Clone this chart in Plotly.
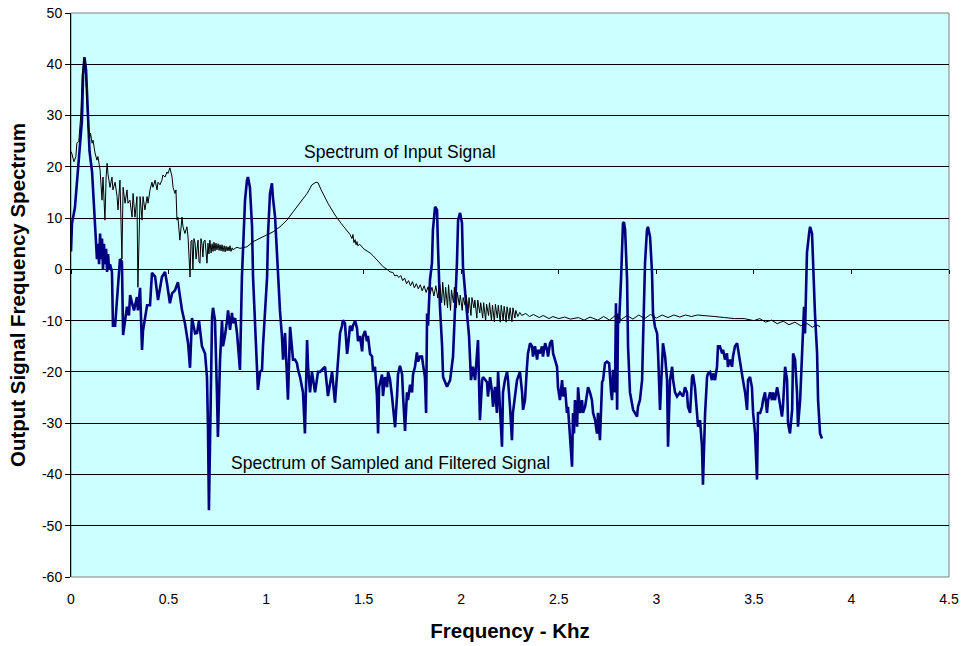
import plotly.graph_objects as go

# ---- Spectrum of sampled and filtered signal (blue) ----
filtered_khz = [
    0, 0.005, 0.02, 0.036, 0.056, 0.062, 0.069, 0.077, 0.087, 0.095, 0.108, 0.113, 0.118, 0.126, 0.133,
    0.138, 0.144, 0.149, 0.154, 0.159, 0.164, 0.169, 0.174, 0.18, 0.185, 0.19, 0.195, 0.2, 0.21,
    0.215, 0.226, 0.251, 0.261, 0.267, 0.287, 0.297, 0.303, 0.313, 0.323, 0.338, 0.343, 0.354, 0.364, 0.369,
    0.39, 0.405, 0.415, 0.431, 0.446, 0.466, 0.482, 0.492, 0.507, 0.518, 0.533, 0.548, 0.569, 0.584,
    0.6, 0.61, 0.62, 0.636, 0.646, 0.656, 0.671, 0.687, 0.697, 0.702, 0.707, 0.718, 0.723, 0.728,
    0.738, 0.748, 0.753, 0.764, 0.774, 0.779, 0.789, 0.8, 0.805, 0.815, 0.825, 0.83, 0.841, 0.851,
    0.856, 0.866, 0.876, 0.882, 0.892, 0.902, 0.907, 0.917, 0.928, 0.933, 0.943, 0.953, 0.958, 0.969,
    0.979, 0.984, 0.994, 1.005, 1.01, 1.02, 1.03, 1.035, 1.046, 1.056, 1.061, 1.071, 1.081, 1.087,
    1.097, 1.107, 1.112, 1.123, 1.133, 1.138, 1.148, 1.158, 1.164, 1.174, 1.189, 1.199, 1.21, 1.215,
    1.225, 1.235, 1.251, 1.266, 1.276, 1.302, 1.317, 1.338, 1.353, 1.369, 1.379, 1.389, 1.394, 1.404,
    1.415, 1.42, 1.43, 1.44, 1.445, 1.456, 1.466, 1.471, 1.481, 1.492, 1.497, 1.507, 1.517, 1.522,
    1.533, 1.543, 1.548, 1.558, 1.568, 1.574, 1.579, 1.594, 1.599, 1.609, 1.62, 1.625, 1.635, 1.645,
    1.65, 1.661, 1.671, 1.676, 1.686, 1.697, 1.702, 1.712, 1.722, 1.727, 1.738, 1.748, 1.753, 1.763,
    1.773, 1.779, 1.789, 1.799, 1.804, 1.814, 1.82, 1.825, 1.83, 1.84, 1.85, 1.855, 1.866, 1.876,
    1.881, 1.891, 1.902, 1.907, 1.927, 1.943, 1.958, 1.968, 1.978, 1.984, 1.994, 2.004, 2.009, 2.019,
    2.03, 2.04, 2.05, 2.06, 2.071, 2.081, 2.086, 2.096, 2.107, 2.112, 2.122, 2.132, 2.137, 2.148,
    2.158, 2.163, 2.173, 2.183, 2.189, 2.199, 2.209, 2.214, 2.224, 2.235, 2.24, 2.25, 2.26, 2.265,
    2.276, 2.286, 2.301, 2.312, 2.317, 2.327, 2.337, 2.342, 2.353, 2.363, 2.368, 2.378, 2.389, 2.394,
    2.404, 2.414, 2.419, 2.43, 2.44, 2.445, 2.455, 2.465, 2.471, 2.481, 2.491, 2.496, 2.506, 2.517,
    2.522, 2.532, 2.542, 2.547, 2.558, 2.568, 2.573, 2.578, 2.583, 2.594, 2.599, 2.609, 2.619, 2.624,
    2.635, 2.645, 2.65, 2.66, 2.67, 2.676, 2.686, 2.696, 2.701, 2.711, 2.722, 2.727, 2.737, 2.747,
    2.758, 2.768, 2.773, 2.778, 2.788, 2.793, 2.799, 2.804, 2.809, 2.819, 2.824, 2.829, 2.834, 2.84,
    2.85, 2.855, 2.865, 2.875, 2.881, 2.901, 2.906, 2.916, 2.927, 2.932, 2.942, 2.952, 2.957, 2.968,
    2.978, 2.983, 2.993, 3.004, 3.009, 3.019, 3.029, 3.034, 3.045, 3.055, 3.06, 3.07, 3.081, 3.086,
    3.096, 3.106, 3.121, 3.137, 3.147, 3.157, 3.162, 3.173, 3.183, 3.188, 3.198, 3.209, 3.214, 3.224,
    3.234, 3.239, 3.25, 3.26, 3.265, 3.275, 3.285, 3.291, 3.301, 3.311, 3.316, 3.326, 3.337, 3.342,
    3.352, 3.362, 3.367, 3.378, 3.388, 3.393, 3.403, 3.414, 3.419, 3.429, 3.439, 3.444, 3.455, 3.465,
    3.47, 3.48, 3.49, 3.496, 3.506, 3.516, 3.521, 3.532, 3.542, 3.547, 3.557, 3.567, 3.573, 3.583,
    3.593, 3.598, 3.608, 3.619, 3.624, 3.634, 3.644, 3.649, 3.66, 3.67, 3.675, 3.685, 3.696, 3.701,
    3.711, 3.721, 3.726, 3.737, 3.747, 3.752, 3.757, 3.762, 3.767, 3.772, 3.783, 3.788, 3.798, 3.803,
    3.813, 3.824, 3.829, 3.839, 3.849,
]
filtered_db = [
    3.5, 9, 12, 20, 29, 38, 41.4, 39, 30, 23, 19, 15, 11, 6, 2,
    5, 1, 7, 2, 6, 0, 5, 1, 4, -0.5, 3, 0, 1, -0.5,
    -11, -11, 2, 1.5, -12.8, -7.3, -9, -5, -6.6, -8, -5.4, -8, -3.6, -15.7, -12,
    -7, -7, -0.7, -1.4, -6, -1.5, -0.5, -2.7, -6.6, -4.7, -4.1, -2.5, -8, -10.5,
    -14.4, -19.2, -9.5, -12.5, -12.4, -10, -15, -16.4, -21, -30.7, -47, -21, -9.3, -7.5,
    -9.9, -24, -32.7, -17.6, -9.9, -15, -13, -9.9, -8, -11.8, -8.5, -10.5, -9.5, -12.5,
    -15, -19.6, -1.5, 5, 13.5, 17.4, 18, 16, 8.3, -1.5, -9.9, -20, -23.5, -20,
    -19.6, -15, -8, -1.5, 7, 14.8, 16.8, 14, 10.2, 2.4, -0.7, -8, -13, -17.6,
    -12.4, -21, -25.4, -11.2, -16.4, -17.6, -17.6, -18.3, -19.6, -21, -24, -32, -13.8, -19,
    -24, -20, -24, -20, -20, -19, -24.7, -20, -26, -16.5, -12.4, -11, -9.9, -10.5,
    -16.5, -15, -11, -12, -11, -10, -11.5, -14, -13, -16, -13, -12, -14, -13,
    -16.5, -17, -20, -19, -24.7, -32, -23, -20.5, -24.7, -21, -23, -20, -21.5, -24.7,
    -26.8, -30.8, -24.7, -20.5, -18.8, -20.5, -24.7, -31.5, -24, -25.5, -22.5, -24, -20.5, -19,
    -16.2, -18, -17, -17, -18.5, -21, -28, -8.6, -11, -2, 1.2, 7.7, 12.2, 11.6,
    4.4, -7.3, -15, -21, -22.9, -21.6, -17, -8.6, 1.2, 9.6, 11, 9, 0.5, -4,
    -8.6, -13, -21.6, -19, -21.6, -15, -13.8, -29.4, -21.6, -21, -21.6, -22, -24.8, -21,
    -24, -26.8, -22.9, -28, -20, -28, -34.6, -24, -21.6, -20, -21.6, -26.8, -33.3, -28,
    -24, -21.6, -20, -24, -27.4, -25.5, -19, -16.4, -14.4, -15, -17, -15, -17.6, -15.7,
    -16.4, -15, -17, -14.4, -15.7, -17, -14.4, -13.8, -16.4, -17.6, -19, -23, -25.5, -21.6,
    -24.8, -23, -28, -26.8, -33.3, -38.5, -28, -32, -25.5, -30.7, -23, -28, -25.5, -28,
    -26.8, -24, -23, -24, -25.5, -28, -29.4, -32, -28, -33.3, -22, -21.6, -18.3, -18,
    -18.3, -24, -25.5, -19.6, -24, -6.6, -27.4, -8.6, -10.5, -2, 4.4, 9, 9.2, 7.7,
    -2, -15, -24, -26, -27.4, -28.7, -26.8, -25.5, -21.6, -13.8, 1.2, 7.7, 8.3, 6.3,
    -0.7, -8.6, -11.2, -12.5, -16.4, -27.4, -16.4, -14.4, -17, -21.6, -34.6, -21.6, -19, -21.6,
    -24, -24.8, -24, -24.8, -23, -24, -26.8, -28, -21, -20.5, -23, -28, -30.7, -29.4,
    -34.6, -42, -28, -21, -20.3, -20, -21.6, -20.3, -21.6, -19, -15, -15, -16.4, -15.7,
    -17.6, -16.4, -19, -17.6, -19, -17, -15, -14.4, -15.7, -17.6, -20, -21.6, -24, -27.4,
    -21.6, -21, -23, -28, -32, -41, -28, -28, -26.8, -25.5, -24, -28, -25.5, -24,
    -25.5, -24, -25.5, -23, -24, -26.8, -28.7, -26.8, -19, -21.6, -30, -32, -27.4, -16.4,
    -17.6, -24, -30.7, -25.5, -15, -8.6, -7.3, -12.5, -2, 3.2, 7, 8.3, 7, 0.5,
    -8.6, -16.4, -25.5, -32, -33,
]

# ---- Spectrum of input signal (black) ----
input_khz = [
    0, 0.005, 0.015, 0.025, 0.03, 0.04, 0.05, 0.058, 0.067, 0.077, 0.087, 0.095, 0.1, 0.108, 0.113,
    0.123, 0.133, 0.138, 0.149, 0.159, 0.164, 0.174, 0.18, 0.185, 0.19, 0.2, 0.21, 0.215, 0.226,
    0.236, 0.241, 0.251, 0.261, 0.267, 0.277, 0.287, 0.292, 0.302, 0.313, 0.318, 0.328, 0.338, 0.343,
    0.354, 0.364, 0.369, 0.379, 0.39, 0.395, 0.405, 0.415, 0.42, 0.431, 0.441, 0.446, 0.456, 0.466,
    0.471, 0.482, 0.492, 0.497, 0.507, 0.518, 0.523, 0.533, 0.538, 0.543, 0.548, 0.558, 0.569, 0.574,
    0.584, 0.594, 0.6, 0.61, 0.615, 0.62, 0.625, 0.63, 0.636, 0.641, 0.646, 0.651, 0.656, 0.661,
    0.666, 0.671, 0.676, 0.681, 0.687, 0.692, 0.697, 0.702, 0.707, 0.712, 0.718, 0.723, 0.728, 0.733,
    0.738, 0.743, 0.748, 0.754, 0.759, 0.764, 0.769, 0.774, 0.779, 0.785, 0.79, 0.795, 0.8, 0.805,
    0.81, 0.815, 0.82, 0.826, 0.831, 0.841, 0.851, 0.866, 0.902, 0.933, 0.969, 1.005, 1.035, 1.071,
    1.107, 1.138, 1.174, 1.21, 1.235, 1.256, 1.266, 1.282, 1.317, 1.353, 1.384, 1.42, 1.43, 1.44,
    1.445, 1.45, 1.456, 1.461, 1.466, 1.47, 1.48, 1.5, 1.52, 1.533, 1.55, 1.568, 1.58, 1.6,
    1.62, 1.635, 1.65, 1.66, 1.671, 1.68, 1.69, 1.7, 1.71, 1.72, 1.73, 1.74, 1.75, 1.76,
    1.77, 1.78, 1.79, 1.8, 1.81, 1.82, 1.83, 1.84, 1.85, 1.86, 1.87, 1.88, 1.89, 1.9,
    1.905, 1.915, 1.92, 1.93, 1.935, 1.945, 1.95, 1.96, 1.965, 1.975, 1.98, 1.99, 1.995, 2.005,
    2.01, 2.02, 2.025, 2.035, 2.04, 2.05, 2.055, 2.065, 2.07, 2.08, 2.085, 2.095, 2.1, 2.11,
    2.115, 2.125, 2.13, 2.14, 2.145, 2.155, 2.16, 2.17, 2.175, 2.185, 2.19, 2.2, 2.205, 2.215,
    2.22, 2.23, 2.235, 2.245, 2.25, 2.26, 2.265, 2.275, 2.28, 2.29, 2.3, 2.31, 2.33, 2.35,
    2.37, 2.4, 2.42, 2.45, 2.47, 2.5, 2.53, 2.56, 2.6, 2.63, 2.66, 2.7, 2.73, 2.76,
    2.79, 2.82, 2.85, 2.88, 2.91, 2.94, 2.97, 3.0, 3.03, 3.06, 3.09, 3.12, 3.15, 3.18,
    3.21, 3.25, 3.3, 3.35, 3.4, 3.45, 3.5, 3.53, 3.56, 3.59, 3.62, 3.65, 3.68, 3.71,
    3.74, 3.77, 3.8, 3.82, 3.84,
]
input_db = [
    23, 22.5, 21, 22, 24.6, 25, 30, 38, 41, 37, 28, 25.5, 26.6, 24.6, 25.2,
    22.7, 21.3, 22, 19.4, 13.5, 18, 9.6, 18, 20.7, 18.5, 16, 18, 15.5, 17,
    14.2, 11.6, 17.4, 2, 16, 12.9, 15.5, 12.9, 13.5, 10.2, 14.8, 10.2, 14.2, -3.5,
    14.2, 9.6, 14.2, 11.6, 14.2, 12.9, 15.5, 17, 16, 17.4, 15.5, 17, 16.5, 17.4,
    18.4, 18, 19, 18.7, 19.8, 18, 16, 14.8, 15.5, 9.6, 10.2, 5.7, 10.2, 8.3,
    7, 8.3, 6.3, -1.5, 5.5, 5.7, -0.1, 6, 5.1, 2, 3.8, 5.7, 1.5, 1.2,
    6, 5.1, 2.4, 5.5, 5.7, 2.5, 1.2, 5.1, 3, 5.7, 3.2, 5, 3.5, 5.3,
    3.6, 5.1, 3.8, 5, 3.7, 4.8, 3.6, 4.8, 3.5, 4.6, 3.4, 4.5, 3.6, 4.4,
    3.6, 4.6, 3.5, 4.2, 3.8, 4.1, 4.3, 4.1, 4.4, 5.4, 6.1, 6.7, 7.3, 8.3,
    9.6, 11.2, 12.9, 14.8, 16.5, 17, 16.9, 15.5, 12.9, 10.6, 9, 7.3, 6.8, 6.0,
    6.8, 5.2, 5.8, 4.8, 5.4, 4.6, 4.9, 4.0, 3.6, 3.2, 2.6, 1.8, 1.4, 0.5,
    0.0, -0.5, -0.6, -1.3, -1.1, -1.6, -1.2, -2.2, -1.7, -2.8, -2.2, -3.2, -2.4, -3.6,
    -2.8, -3.8, -3.0, -4.2, -3.2, -4.5, -3.4, -4.8, -3.5, -5.2, -3.2, -5.6, -3.0, -6.5,
    -2.5, -7, -3.5, -7.5, -3, -8, -4, -6.5, -3.5, -7.5, -4.5, -7, -5, -8,
    -5.5, -7, -5, -8.5, -5.5, -9, -5.5, -7.5, -6, -9.5, -6, -8.5, -6.5, -9.5,
    -6.5, -10, -6.8, -9, -6.5, -10, -7, -10.2, -6.8, -9.5, -7, -10.3, -7, -10,
    -7.2, -10.3, -7.3, -9.8, -7.5, -10.2, -7.5, -9.5, -8, -9.2, -8.4, -9.0, -8.6, -9.2,
    -8.8, -9.4, -9.0, -9.6, -9.2, -9.6, -9.3, -9.7, -9.4, -9.9, -9.3, -9.9, -9.2, -9.9,
    -9.0, -9.8, -9.0, -9.7, -8.9, -9.6, -8.8, -9.5, -8.9, -9.4, -8.9, -9.3, -8.9, -9.2,
    -8.9, -9.0, -9.2, -9.4, -9.6, -9.6, -10.0, -9.6, -10.3, -9.9, -10.6, -10.1, -10.8, -10.3,
    -11, -10.5, -11.3, -10.8, -11.2,
]

x_ticks = [0, 0.5, 1, 1.5, 2, 2.5, 3, 3.5, 4, 4.5]
x_tick_text = ["0", "0.5", "1", "1.5", "2", "2.5", "3", "3.5", "4", "4.5"]
y_ticks = [-60, -50, -40, -30, -20, -10, 0, 10, 20, 30, 40, 50]
y_tick_text = ["-60", "-50", "-40", "-30", "-20", "-10", "0", "10", "20", "30", "40", "50"]

FONT = "Liberation Sans, Arial, sans-serif"

fig = go.Figure()
fig.add_trace(go.Scatter(
    x=filtered_khz, y=filtered_db, mode="lines",
    line=dict(color="#000080", width=2.6), name="Sampled and Filtered",
    showlegend=False, hoverinfo="skip",
))
fig.add_trace(go.Scatter(
    x=input_khz, y=input_db, mode="lines",
    line=dict(color="#000000", width=1), name="Input",
    showlegend=False, hoverinfo="skip",
))
# empty trace so that the x-axis crossing at y = 0 (with its tick marks) is drawn
fig.add_trace(go.Scatter(x=[], y=[], xaxis="x2", yaxis="y", showlegend=False, hoverinfo="skip"))

fig.update_layout(
    width=961, height=646,
    margin=dict(l=71, r=12, t=13, b=69),
    paper_bgcolor="white",
    plot_bgcolor="#CCFFFF",
    font=dict(family=FONT, size=14, color="black"),
    xaxis=dict(
        range=[0, 4.5], tickvals=x_ticks, ticktext=x_tick_text,
        showgrid=False, zeroline=False, showline=False, automargin=False,
        ticks="", ticklabelstandoff=12,
        tickfont=dict(family=FONT, size=14),
        title=dict(text="<b>Frequency - Khz</b>", font=dict(family=FONT, size=20.5), standoff=17),
    ),
    xaxis2=dict(
        range=[0, 4.5], tickvals=x_ticks, overlaying="x", anchor="free",
        position=60 / 110, side="bottom", showticklabels=False, automargin=False,
        showgrid=False, zeroline=False, showline=False,
        ticks="outside", ticklen=4, tickcolor="black", tickwidth=1,
    ),
    yaxis=dict(
        range=[-60, 50], tickvals=y_ticks, ticktext=y_tick_text,
        showgrid=True, gridcolor="#000000", gridwidth=1,
        zeroline=False, showline=True, linecolor="black", linewidth=1, automargin=False,
        ticks="outside", ticklen=5, tickcolor="black",
        tickfont=dict(family=FONT, size=14),
        title=dict(text="<b>Output Signal Frequency Spectrum</b>", font=dict(family=FONT, size=20.5), standoff=10),
    ),
    shapes=[dict(type="rect", xref="paper", yref="paper", x0=0, x1=1, y0=0, y1=1,
                 line=dict(color="#808080", width=1), fillcolor="rgba(0,0,0,0)", layer="below")],
    annotations=[
        dict(x=1.686, y=22.9, xref="x", yref="y", text="Spectrum of Input Signal",
             showarrow=False, font=dict(family=FONT, size=17.5, color="black")),
        dict(x=1.635, y=-37.8, xref="x", yref="y", text="Spectrum of Sampled and Filtered Signal",
             showarrow=False, font=dict(family=FONT, size=17.5, color="black")),
    ],
)

fig.write_html(
    "out.html",
    config={"displayModeBar": False},
    post_script="document.body.style.margin='0';document.body.style.overflow='hidden';",
)
